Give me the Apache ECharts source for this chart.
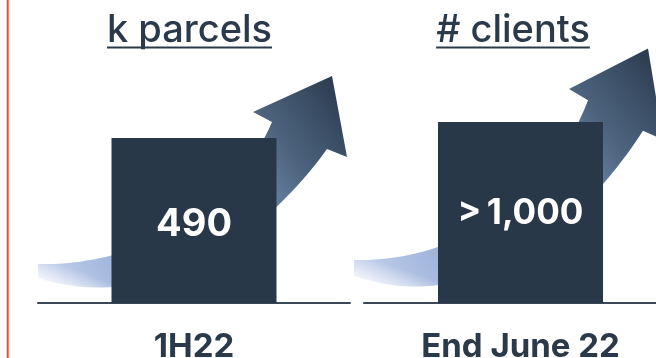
<!DOCTYPE html>
<html>
<head>
<meta charset="utf-8">
<script src="https://cdn.jsdelivr.net/npm/echarts@6/dist/echarts.min.js"></script>
<style>
  html, body { margin: 0; padding: 0; background: #ffffff; }
  #chart { width: 656px; height: 358px; }
</style>
</head>
<body>
<div id="chart"></div>
<script>
// Panel headings, categories and values
const panelTitles = ['k parcels', '# clients'];
const categories = ['1H22', 'End June 22'];
const values = [490, 1000];
const valueLabels = ['490', '>\u20091,000'];

const NAVY = '#293848';
const TEXT = '#2b3a4b';
const FONT = 'Inter';

// Outline of the decorative swoosh arrow (tail lower-left, head upper-right)
const arrowOutline = [
  ['M', 38, 264],
  ['C', 130, 266, 230, 220, 272, 122],
  ['L', 253, 112],
  ['L', 332, 76],
  ['L', 347, 157],
  ['L', 327, 149],
  ['C', 280, 215, 170, 320, 38, 278]
];

// flatten the outline (cubic segments sampled) into polygon points
function outlinePoints(X, Y) {
  const pts = [];
  let cur = null;
  arrowOutline.forEach(seg => {
    if (seg[0] === 'M' || seg[0] === 'L') {
      cur = [seg[1], seg[2]];
      pts.push([X(cur[0]), Y(cur[1])]);
    } else if (seg[0] === 'C') {
      const p0 = cur, p1 = [seg[1], seg[2]], p2 = [seg[3], seg[4]], p3 = [seg[5], seg[6]];
      for (let i = 1; i <= 40; i++) {
        const t = i / 40, u = 1 - t;
        const bx = u * u * u * p0[0] + 3 * u * u * t * p1[0] + 3 * u * t * t * p2[0] + t * t * t * p3[0];
        const by = u * u * u * p0[1] + 3 * u * u * t * p1[1] + 3 * u * t * t * p2[1] + t * t * t * p3[1];
        pts.push([X(bx), Y(by)]);
      }
      cur = p3;
    }
  });
  return pts;
}

function arrowElements(dx, y0, sy) {
  const X = x => x + dx;
  const Y = y => y0 - (264 - y) * sy;
  const body = {
    type: 'polygon',
    z: 0,
    shape: { points: outlinePoints(X, Y) },
    style: {
      fill: new echarts.graphic.LinearGradient(X(40), Y(285), X(335), Y(78), [
        { offset: 0, color: '#c8d5ef' },
        { offset: 0.18, color: '#a6b9de' },
        { offset: 0.45, color: '#8198bd' },
        { offset: 0.69, color: '#5f7897' },
        { offset: 0.78, color: '#4d637d' },
        { offset: 0.9, color: '#3b4e66' },
        { offset: 1, color: '#2c3b4d' }
      ], true)
    }
  };
  // soft white fade along the lower edge of the tail
  const fade = {
    type: 'rect',
    z: 1,
    shape: { x: X(30), y: Y(250), width: 95, height: Y(298) - Y(250) },
    style: {
      fill: new echarts.graphic.LinearGradient(X(68), Y(266), X(58), Y(291), [
        { offset: 0, color: 'rgba(255,255,255,0)' },
        { offset: 1, color: 'rgba(255,255,255,0.95)' }
      ], true)
    }
  };
  return [body, fade];
}

function textWidth(str, font) {
  const c = document.createElement('canvas').getContext('2d');
  c.font = font;
  return c.measureText(str).width;
}

function headingElements(text, cx) {
  const size = 38;
  const font = '500 ' + size + 'px ' + FONT;
  const w = textWidth(text, font);
  return [
    {
      type: 'text',
      z: 5,
      x: cx,
      y: 30.5,
      style: {
        text: text,
        fill: TEXT,
        font: font,
        align: 'center',
        verticalAlign: 'middle'
      }
    },
    {
      type: 'line',
      z: 5,
      shape: { x1: cx - w / 2, y1: 47.5, x2: cx + w / 2, y2: 47.5 },
      style: { stroke: TEXT, lineWidth: 2 }
    }
  ];
}

const chart = echarts.init(document.getElementById('chart'), null, { renderer: 'canvas' });

const axisLineStyle = { lineStyle: { color: '#3a4756', width: 2 } };
const catLabel = { fontFamily: FONT, fontWeight: 700, fontSize: 33, color: TEXT, margin: 28 };

chart.setOption({
  animation: false,
  backgroundColor: '#ffffff',
  grid: [
    { left: 38, width: 312, top: 103, height: 200, outerBoundsMode: 'none', containLabel: false },
    { left: 364, width: 313, top: 103, height: 200, outerBoundsMode: 'none', containLabel: false }
  ],
  xAxis: [
    { gridIndex: 0, type: 'category', data: [categories[0]], axisLine: axisLineStyle, axisTick: { show: false }, axisLabel: catLabel },
    { gridIndex: 1, type: 'category', data: [categories[1]], axisLine: axisLineStyle, axisTick: { show: false }, axisLabel: catLabel }
  ],
  yAxis: [
    { gridIndex: 0, type: 'value', min: 0, max: 594, show: false },
    { gridIndex: 1, type: 'value', min: 0, max: 1105, show: false }
  ],
  series: [
    {
      type: 'bar', xAxisIndex: 0, yAxisIndex: 0, z: 3,
      data: [values[0]], barWidth: 165,
      itemStyle: { color: NAVY },
      label: {
        show: true, position: 'inside', offset: [0, 4],
        formatter: () => valueLabels[0],
        color: '#ffffff', textBorderWidth: 0,
        fontFamily: FONT, fontWeight: 700, fontSize: 38
      }
    },
    {
      type: 'bar', xAxisIndex: 1, yAxisIndex: 1, z: 3,
      data: [values[1]], barWidth: 165,
      itemStyle: { color: NAVY },
      label: {
        show: true, position: 'inside', offset: [0, 1],
        formatter: () => valueLabels[1],
        color: '#ffffff', textBorderWidth: 0,
        fontFamily: FONT, fontWeight: 700, fontSize: 35
      }
    }
  ],
  graphic: {
    elements: [
      ...arrowElements(0, 264, 1),
      ...arrowElements(316, 260, 1.125),
      ...headingElements(panelTitles[0], 189.5),
      ...headingElements(panelTitles[1], 513),
      {
        type: 'line', z: 5,
        shape: { x1: 7.7, y1: 0, x2: 7.7, y2: 358 },
        style: { stroke: '#e4512b', lineWidth: 2 }
      }
    ]
  }
});
</script>
</body>
</html>
